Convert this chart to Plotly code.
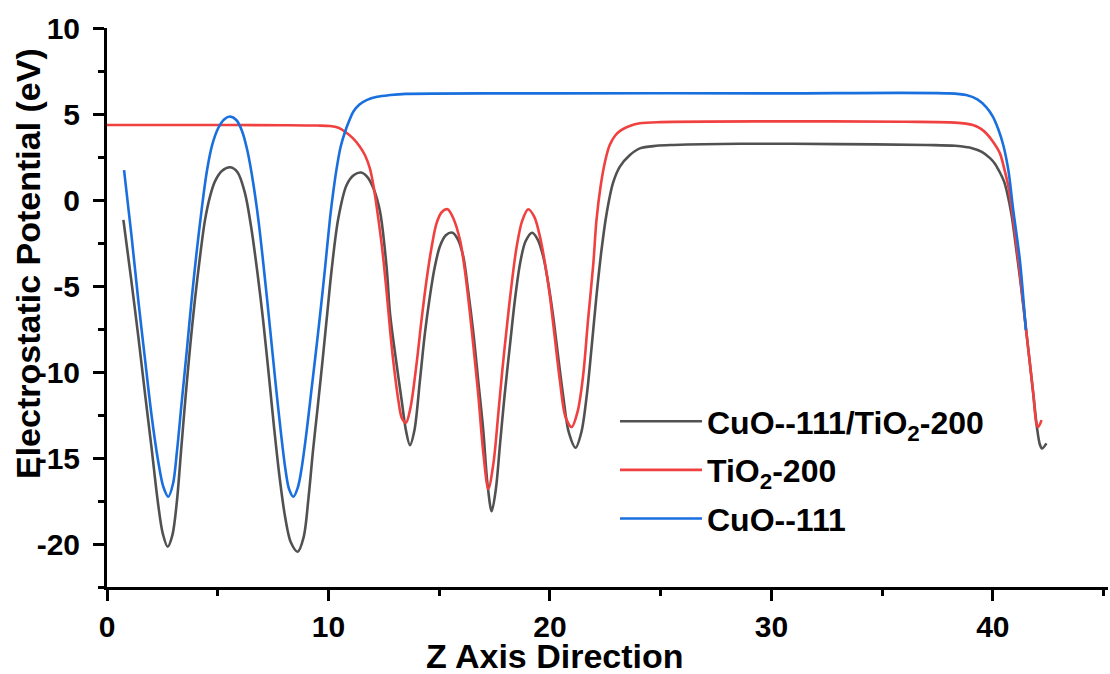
import plotly.graph_objects as go

# ---- data ----
z_hetero = [0.74, 1.08, 1.41, 1.72, 2.02, 2.3, 2.52, 2.74, 2.95, 3.15, 3.35, 3.55, 3.77, 3.97, 4.2, 4.42,
            4.65, 4.88, 5.2, 5.57, 5.9, 6.23, 6.5, 6.8, 7.05, 7.3, 7.55, 7.8, 8.04, 8.3, 8.61, 8.88,
            9.1, 9.3, 9.5, 9.72, 9.96, 10.14, 10.44, 10.82, 11.15, 11.47, 11.75, 12.03, 12.33, 12.63,
            12.78, 13.05, 13.3, 13.5, 13.68, 13.88, 14.13, 14.35, 14.58, 14.8, 15.03, 15.3, 15.6,
            15.85, 16.09, 16.3, 16.54, 16.77, 16.99, 17.18, 17.37, 17.56, 17.74, 17.95, 18.19, 18.42,
            18.65, 18.9, 19.2, 19.45, 19.7, 19.92, 20.15, 20.38, 20.6, 20.85, 21.16, 21.42, 21.66,
            21.88, 22.1, 22.33, 22.56, 22.85, 23.16, 23.6, 24.06, 24.8, 25.57, 28.6, 33.0, 37.0, 38.3,
            39.1, 39.5, 39.86, 40.1, 40.32, 40.5, 40.65, 40.85, 41.05, 41.22, 41.52, 41.82, 42.0,
            42.12, 42.22, 42.42]
v_hetero = [-1.16, -4.5, -7.9, -11.3, -14.5, -17.6, -19.4, -20.16, -19.5, -17.6, -14.5, -11.4, -8.3,
            -5.8, -3.3, -1.2, 0.2, 1.1, 1.7, 1.9, 1.6, 0.4, -1.5, -4.3, -7.0, -10.1, -13.3, -16.2,
            -18.4, -19.9, -20.45, -19.6, -17.3, -14.6, -12.2, -9.5, -6.4, -4.1, -1.1, 0.87, 1.45,
            1.6, 1.35, 0.68, -0.68, -3.97, -6.6, -9.3, -11.6, -13.4, -14.25, -13.4, -10.5, -7.8,
            -5.6, -3.9, -2.7, -2.05, -1.9, -2.3, -3.3, -5.2, -7.7, -10.6, -13.4, -16.5, -18.1,
            -16.8, -14.3, -11.4, -8.5, -5.8, -3.7, -2.4, -1.9, -2.3, -3.3, -4.8, -6.8, -9.2, -11.4,
            -13.5, -14.4, -13.5, -11.4, -8.6, -5.6, -2.9, -0.78, 1.0, 1.94, 2.6, 3.0, 3.15, 3.2,
            3.27, 3.25, 3.2, 3.15, 3.0, 2.8, 2.45, 2.1, 1.6, 1.1, 0.4, -0.9, -2.8, -4.46, -7.75,
            -11.2, -13.3, -14.2, -14.45, -14.15]

z_tio2 = [0.0, 4.0, 8.0, 9.5, 10.07, 10.45, 10.75, 11.1, 11.42, 11.65, 11.87, 12.05, 12.25, 12.45, 12.63,
          12.8, 12.93, 13.15, 13.32, 13.5, 13.7, 13.98, 14.2, 14.43, 14.65, 14.88, 15.12, 15.38, 15.65,
          15.94, 16.15, 16.39, 16.6, 16.77, 17.0, 17.22, 17.45, 17.67, 17.85, 18.04, 18.28, 18.5,
          18.75, 19.02, 19.3, 19.55, 19.78, 20.0, 20.22, 20.45, 20.7, 20.98, 21.25, 21.5, 21.72,
          21.96, 22.1, 22.3, 22.5, 22.7, 22.95, 23.2, 23.6, 24.06, 25.0, 30.0, 36.0, 38.3, 39.1,
          39.45, 39.7, 40.0, 40.32, 40.5, 40.7, 40.92, 41.22, 41.52, 41.82, 41.97, 42.05, 42.2]
v_tio2 = [4.36, 4.36, 4.35, 4.33, 4.3, 4.2, 3.97, 3.6, 3.1, 2.6, 1.84, 0.7, -1.07, -3.1, -5.4, -7.8,
          -9.4, -11.6, -12.7, -12.95, -12.1, -9.5, -7.0, -4.65, -2.8, -1.36, -0.7, -0.54, -1.1, -2.33,
          -4.0, -6.6, -9.2, -11.4, -14.8, -16.8, -15.3, -12.4, -9.9, -7.56, -4.8, -2.7, -1.2, -0.54,
          -1.0, -2.13, -3.7, -5.6, -8.0, -10.5, -12.6, -13.2, -12.3, -10.2, -7.0, -3.7, -1.2, 0.9,
          2.3, 3.2, 3.75, 4.05, 4.3, 4.46, 4.53, 4.57, 4.55, 4.5, 4.36, 4.15, 3.88, 3.4, 2.71, 1.9,
          0.78, -1.16, -4.26, -7.75, -11.2, -13.0, -13.2, -12.8]

z_cuo = [0.77, 1.1, 1.41, 1.72, 2.02, 2.3, 2.55, 2.77, 2.98, 3.16, 3.37, 3.6, 3.82, 4.05, 4.27, 4.5,
         4.75, 5.03, 5.3, 5.57, 5.84, 6.1, 6.35, 6.6, 6.85, 7.1, 7.35, 7.6, 7.85, 8.05, 8.22, 8.42,
         8.62, 8.8, 9.0, 9.2, 9.4, 9.62, 9.85, 10.07, 10.22, 10.37, 10.55, 10.75, 10.95, 11.12,
         11.4, 11.72, 12.2, 12.78, 13.5, 20.0, 30.0, 38.0, 38.8, 39.3, 39.7, 40.0, 40.25, 40.47,
         40.7, 40.92, 41.22, 41.49]
v_cuo = [1.74, -2.0, -5.8, -9.3, -12.6, -15.1, -16.7, -17.25, -16.5, -14.6, -11.8, -8.8, -5.8, -3.0,
         -0.6, 1.6, 3.2, 4.2, 4.7, 4.85, 4.65, 4.0, 2.8, 1.0, -1.3, -4.2, -7.3, -10.5, -13.5, -15.6,
         -16.8, -17.25, -16.7, -15.5, -13.6, -11.4, -9.2, -6.7, -3.9, -1.07, 0.5, 1.84, 3.1, 3.97,
         4.65, 5.13, 5.55, 5.81, 6.0, 6.1, 6.17, 6.2, 6.2, 6.2, 6.1, 5.85, 5.4, 4.85, 4.1, 3.2,
         1.74, -0.58, -3.5, -7.56]

names = ["CuO--111/TiO<sub>2</sub>-200", "TiO<sub>2</sub>-200", "CuO--111"]
colors = ["#515151", "#F14040", "#1A6FDF"]
x_ticks = [0, 10, 20, 30, 40]
y_ticks = [-20, -15, -10, -5, 0, 5, 10]

FONT = "Liberation Sans, Arial, sans-serif"

fig = go.Figure()
for (zz, vv), nm, col, grp in zip([(z_hetero, v_hetero), (z_tio2, v_tio2), (z_cuo, v_cuo)],
                                  names, colors, ["a", "b", "c"]):
    fig.add_trace(go.Scatter(x=zz, y=vv, mode="lines", name=nm, legendgroup=grp,
                             line=dict(color=col, width=2.6, shape="spline", smoothing=0.9)))

axis_common = dict(showline=True, linecolor="black", linewidth=3, ticks="outside", ticklen=11,
                   tickwidth=3, tickcolor="black", showgrid=False, zeroline=False,
                   tickfont=dict(family=FONT, size=30, color="black", weight="bold"),
                   minor=dict(ticks="outside", ticklen=6, tickwidth=3, tickcolor="black"))

fig.update_xaxes(range=[0, 45.2], tickvals=x_ticks, ticktext=[str(t) for t in x_ticks],
                 minor_dtick=5, minor_tick0=0, **axis_common)
fig.update_yaxes(range=[-22.5, 10], tickvals=y_ticks, ticktext=[str(t) for t in y_ticks],
                 minor_dtick=2.5, minor_tick0=0, ticklabelstandoff=7, **axis_common)

W, H = 1110, 674
ml, mr, mt, mb = 107, 2, 28, 87
pw, ph = W - ml - mr, H - mt - mb

fig.add_annotation(text="Electrostatic Potential (eV)", textangle=-90, showarrow=False,
                   xref="paper", yref="paper", x=(28 - ml) / pw, y=(H - mb - 264) / ph,
                   xanchor="center", yanchor="middle",
                   font=dict(family=FONT, size=34, color="black", weight="bold"))
fig.add_annotation(text="Z Axis Direction", showarrow=False,
                   xref="paper", yref="paper", x=(555 - ml) / pw, y=(H - mb - 656) / ph,
                   xanchor="center", yanchor="middle", borderpad=0,
                   font=dict(family=FONT, size=34, color="black", weight="bold"))

fig.update_layout(
    width=W, height=H, margin=dict(l=ml, r=mr, t=mt, b=mb),
    plot_bgcolor="white", paper_bgcolor="white",
    legend=dict(x=(615 - ml) / pw, y=(H - mb - 394) / ph, xanchor="left", yanchor="top",
                bgcolor="rgba(0,0,0,0)", itemwidth=82, tracegroupgap=4,
                font=dict(family=FONT, size=32, color="black", weight="bold")),
)

fig.write_html("out.html")
